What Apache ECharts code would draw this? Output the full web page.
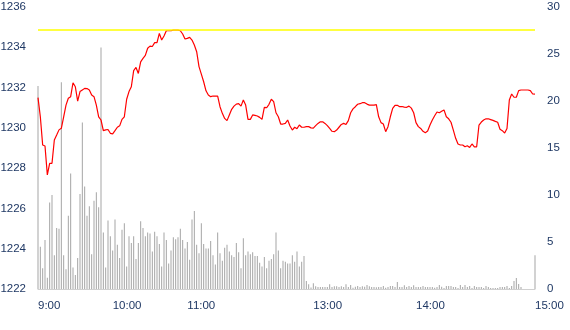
<!DOCTYPE html>
<html>
<head>
<meta charset="utf-8">
<script src="https://cdn.jsdelivr.net/npm/echarts@6/dist/echarts.min.js"></script>
<style>html,body{margin:0;padding:0;background:#fff}#c{width:570px;height:330px}</style>
</head>
<body>
<div id="c"></div>
<script>
// price (left axis)
const price = [
1231.5,1230.55,1229.15,1229.1,1227.66,1228.24,1228.24,1229.4,1229.64,1229.9,
1229.98,1230.55,1231.13,1231.47,1231.55,1232.24,1232.04,1231.33,1231.8,1231.88,
1231.96,1231.95,1231.88,1231.63,1231.55,1231.13,1230.55,1230.39,1229.86,1229.9,
1229.92,1229.73,1229.7,1229.86,1230.03,1230.1,1230.42,1230.55,1231.42,1231.8,
1232.04,1232.84,1233.0,1232.7,1233.28,1233.45,1233.6,1233.95,1234.06,1234.04,
1234.23,1234.23,1234.69,1234.36,1234.56,1234.82,1234.82,1234.82,1234.85,1234.85,
1234.85,1234.82,1234.66,1234.41,1234.44,1234.49,1234.36,1234.11,1233.78,1233.04,
1232.67,1232.29,1231.84,1231.63,1231.55,1231.58,1231.58,1231.58,1231.05,1230.72,
1230.47,1230.36,1230.64,1230.92,1231.08,1231.18,1231.2,1231.08,1231.38,1231.13,
1230.42,1230.42,1230.64,1230.62,1230.59,1230.52,1230.42,1231.02,1231.0,1231.17,
1231.42,1231.3,1230.75,1230.55,1230.19,1230.19,1230.22,1230.39,1230.09,1229.89,
1230.03,1229.96,1230.14,1230.03,1230.03,1230.06,1230.06,1230.0,1229.99,1230.11,
1230.22,1230.3,1230.3,1230.22,1230.11,1229.97,1229.83,1229.81,1229.89,1230.03,
1230.17,1230.22,1230.17,1230.36,1230.75,1230.94,1231.05,1231.17,1231.2,1231.25,
1231.25,1231.18,1231.13,1231.13,1231.13,1231.15,1230.55,1230.26,1230.19,1229.81,
1230.06,1230.55,1230.97,1231.12,1231.12,1231.05,1231.06,1231.03,1231.02,1231.08,
1230.98,1230.75,1230.26,1230.06,1229.97,1229.83,1229.76,1229.84,1230.14,1230.39,
1230.6,1230.79,1230.75,1230.82,1230.89,1230.55,1230.45,1230.28,1229.89,1229.48,
1229.2,1229.15,1229.15,1229.06,1229.11,1229.03,1229.2,1229.06,1229.06,1230.14,
1230.29,1230.39,1230.45,1230.45,1230.41,1230.37,1230.32,1230.28,1229.93,1229.86,
1229.74,1229.97,1231.38,1231.68,1231.52,1231.52,1231.85,1231.88,1231.88,1231.88,
1231.88,1231.85,1231.68,1231.67
];
// volume (right axis)
const volume = [
21.6,4.5,2.2,5.2,1.2,9.2,10.0,3.6,6.5,6.4,
22.0,3.6,2.1,7.8,12.3,2.3,1.5,3.3,10.1,17.7,
10.9,7.8,8.8,3.7,9.4,10.3,8.7,25.7,6.0,2.3,
7.3,5.6,4.1,7.4,4.7,3.3,6.3,7.0,2.4,5.6,
4.9,5.6,3.2,4.9,7.2,6.5,5.6,6.0,5.9,4.0,
6.1,5.6,4.8,2.4,6.0,5.2,2.7,4.1,5.5,5.3,
5.5,6.4,5.2,4.3,5.0,3.1,7.4,8.3,4.7,3.8,
7.0,4.8,4.3,4.3,5.1,3.6,2.6,6.0,3.8,3.0,
4.4,4.7,4.0,3.6,3.4,4.9,3.9,2.2,5.4,3.6,
4.0,3.7,3.9,3.5,3.5,2.8,2.4,3.4,2.2,3.0,
3.2,3.7,6.0,4.1,2.2,3.0,2.9,2.7,2.7,3.6,
2.9,4.0,2.4,2.9,3.5,0.85,0.5,0.15,0.6,0.3,
0.2,0.2,0.2,0.2,0.2,0.5,0.2,0.3,0.3,0.2,
0.3,0.2,0.5,0.2,0.43,0.14,0.25,0.32,0.2,0.28,
0.25,0.43,0.28,0.2,0.2,0.18,0.2,0.2,0.32,0.14,
0.2,0.32,0.32,0.2,0.75,0.2,0.2,0.39,0.2,0.32,
0.2,0.39,0.2,0.2,0.2,0.32,0.2,0.2,0.2,0.2,
0.14,0.2,0.43,0.25,0.1,0.32,0.32,0.32,0.2,0.2,
0.1,0.43,0.2,0.43,0.2,0.32,0.1,0.32,0.2,0.2,
0.2,0.1,0.32,0.2,0.1,0.1,0.1,0.1,0.2,0.2,
0.2,0.32,0.1,0.32,0.85,1.17,0.53,0.2,0,0,
0,0,0,3.6
];
const highLine = 1234.85;
const tickIndex = [0, 32, 64, 118, 162, 213];
const tickText = ['9:00', '10:00', '11:00', '13:00', '14:00', '15:00'];

const labelMap = {};
tickIndex.forEach((k, j) => { labelMap[k] = tickText[j]; });
const categories = price.map((_, i) => String(i));

const txt = '#1F3864';
const chart = echarts.init(document.getElementById('c'), null, {renderer: 'canvas'});
chart.setOption({
  animation: false,
  grid: {left: 38, right: 35, top: 7, bottom: 41, containLabel: false, outerBoundsMode: 'none'},
  xAxis: {
    type: 'category',
    data: categories,
    boundaryGap: false,
    axisLine: {show: true, lineStyle: {color: '#D0D0D0', width: 1}},
    axisTick: {show: false},
    splitLine: {show: false},
    axisLabel: {
      interval: (idx) => labelMap[idx] !== undefined,
      formatter: (v, idx) => labelMap[idx] || '',
      align: 'left',
      margin: 11,
      color: txt,
      fontFamily: 'Liberation Sans',
      fontSize: 11.5,
      showMaxLabel: true
    }
  },
  yAxis: [
    {
      type: 'value', min: 1222, max: 1236, interval: 2,
      axisLine: {show: false}, axisTick: {show: false}, splitLine: {show: false},
      axisLabel: {color: txt, fontFamily: 'Liberation Sans', fontSize: 11.5, margin: 12,
        formatter: (v) => String(v)}
    },
    {
      type: 'value', min: 0, max: 30, interval: 5, position: 'right',
      axisLine: {show: false}, axisTick: {show: false}, splitLine: {show: false},
      axisLabel: {color: txt, fontFamily: 'Liberation Sans', fontSize: 11.5, margin: 12,
        formatter: (v) => String(v)}
    }
  ],
  series: [
    {
      type: 'bar', yAxisIndex: 1, data: volume, barWidth: 1,
      itemStyle: {color: '#A5A5A5'}, silent: true
    },
    {
      type: 'line', yAxisIndex: 0, data: price, symbol: 'none',
      lineStyle: {color: '#FF0000', width: 1.2}, silent: true,
      markLine: {
        symbol: 'none', silent: true, label: {show: false},
        lineStyle: {color: '#FFFF00', type: 'solid', width: 1.5},
        data: [{yAxis: highLine}]
      }
    }
  ]
});
</script>
</body>
</html>
